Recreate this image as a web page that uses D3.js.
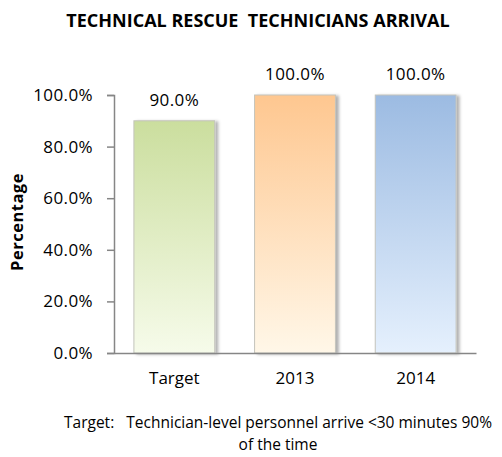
<!DOCTYPE html>
<html>
<head>
<meta charset="utf-8">
<script src="https://d3js.org/d3.v7.min.js"></script>
<style>
  body { margin: 0; background: #fff; }
  text { font-family: "Open Sans", Lato, sans-serif; fill: #000; }
</style>
</head>
<body>
<svg></svg>
<script>
document.addEventListener("DOMContentLoaded", function() {

    // chart data
    var categories = ["Target", "2013", "2014"];
    var values = [0.9, 1.0, 1.0];
    var yTicks = [0, 0.2, 0.4, 0.6, 0.8, 1.0];

    var width = 502;
    var height = 457;
    var left = 114, right = 476, top = 95, bottom = 353;

    var svg = d3.select("svg")
                .attr("width", width)
                .attr("height", height);

    // gradients for the bars (top colour, bottom colour)
    var grads = [
        ["#cbde9e", "#f6fbea"],
        ["#fec790", "#fff7e8"],
        ["#9cbbe2", "#e5f0fd"]
    ];
    var defs = svg.append("defs");
    grads.forEach(function(g, i) {
        var lg = defs.append("linearGradient")
                     .attr("id", "grad" + i)
                     .attr("x1", 0).attr("y1", 0)
                     .attr("x2", 0).attr("y2", 1);
        lg.append("stop").attr("offset", "0%").attr("stop-color", g[0]);
        lg.append("stop").attr("offset", "100%").attr("stop-color", g[1]);
    });
    var shadow = defs.append("filter").attr("id", "shadow")
                     .attr("x", "-20%").attr("y", "-5%")
                     .attr("width", "150%").attr("height", "110%");
    shadow.append("feDropShadow")
          .attr("dx", 3).attr("dy", 1)
          .attr("stdDeviation", 1.5)
          .attr("flood-color", "#000")
          .attr("flood-opacity", 0.3);

    var xScale = d3.scaleBand()
                   .domain(categories)
                   .range([left, right])
                   .paddingInner(0.33)
                   .paddingOuter(0.165);

    var yScale = d3.scaleLinear()
                   .domain([0, 1])
                   .range([bottom, top]);

    // title
    svg.append("text")
       .attr("x", 258)
       .attr("y", 27)
       .attr("text-anchor", "middle")
       .style("font-size", "18px")
       .style("font-weight", "bold")
       .style("white-space", "pre")
       .text("TECHNICAL RESCUE  TECHNICIANS ARRIVAL");

    // bars
    svg.selectAll("rect.bar")
       .data(values)
       .enter()
       .append("rect")
       .attr("class", "bar")
       .attr("x", (d, i) => xScale(categories[i]))
       .attr("y", d => yScale(d))
       .attr("width", xScale.bandwidth())
       .attr("height", d => yScale(0) - yScale(d))
       .attr("fill", (d, i) => "url(#grad" + i + ")")
       .attr("stroke", "#c4c4bc")
       .attr("stroke-width", 1)
       .attr("filter", "url(#shadow)");

    // value labels
    svg.selectAll("text.val")
       .data(values)
       .enter()
       .append("text")
       .attr("class", "val")
       .attr("x", (d, i) => xScale(categories[i]) + xScale.bandwidth() / 2)
       .attr("y", d => yScale(d) - 15)
       .attr("text-anchor", "middle")
       .style("font-size", "17px")
       .style("letter-spacing", "0.4px")
       .text(d => d3.format(".1%")(d));

    // y axis
    var yAxis = d3.axisLeft(yScale)
                  .tickValues(yTicks)
                  .tickFormat(d3.format(".1%"))
                  .tickSize(7)
                  .tickPadding(14);
    var gy = svg.append("g")
                .attr("transform", `translate(${left},0)`)
                .call(yAxis);
    gy.select(".domain").attr("stroke", "#868686").attr("stroke-width", 1.5);
    gy.selectAll(".tick line").attr("stroke", "#868686").attr("stroke-width", 1.5);
    gy.selectAll(".tick text")
      .style("font-size", "17px")
      .style("letter-spacing", "0.4px")
      .attr("fill", "#000");

    // x axis
    var xAxis = d3.axisBottom(xScale).tickSize(0).tickPadding(19);
    var gx = svg.append("g")
                .attr("transform", `translate(0,${bottom})`)
                .call(xAxis);
    gx.select(".domain").attr("stroke", "#868686").attr("stroke-width", 1.5);
    gx.selectAll(".tick text").style("font-size", "17px").attr("fill", "#000");

    // y axis title
    svg.append("text")
       .attr("transform", "translate(23,222) rotate(-90)")
       .attr("text-anchor", "middle")
       .style("font-size", "16.5px")
       .style("font-weight", "bold")
       .style("letter-spacing", "0.5px")
       .text("Percentage");

    // footnote
    svg.append("text")
       .attr("x", 278)
       .attr("y", 428)
       .attr("text-anchor", "middle")
       .style("font-size", "15.5px")
       .style("white-space", "pre")
       .text("Target:   Technician-level personnel arrive <30 minutes 90%");
    svg.append("text")
       .attr("x", 278)
       .attr("y", 450)
       .attr("text-anchor", "middle")
       .style("font-size", "15.5px")
       .text("of the time");
});
</script>
</body>
</html>
